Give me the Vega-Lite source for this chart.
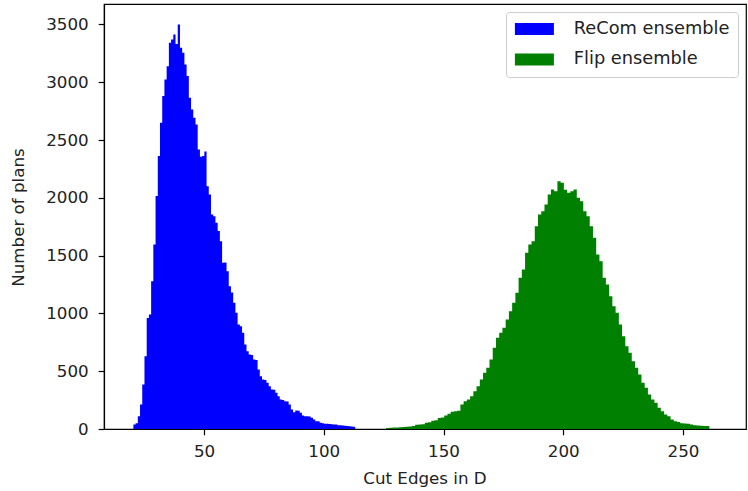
{
  "$schema": "https://vega.github.io/schema/vega-lite/v6.json",
  "width": 642,
  "height": 425,
  "autosize": {"type": "none"},
  "padding": {"left": 104, "top": 4, "right": 2, "bottom": 62},
  "background": "white",
  "config": {
    "font": "DejaVu Sans",
    "view": {"stroke": "black", "strokeWidth": 1.2},
    "axis": {
      "grid": false,
      "domainColor": "black",
      "domainWidth": 1.2,
      "tickColor": "black",
      "tickWidth": 1.2,
      "tickSize": 5.8,
      "labelFont": "DejaVu Sans",
      "labelFontSize": 16.7,
      "labelColor": "#222222",
      "titleFont": "DejaVu Sans",
      "titleFontSize": 16.7,
      "titleFontWeight": "normal",
      "titleColor": "#222222"
    }
  },
  "datasets": {
    "recom": [
      {"x":20.5,"n":39},{"x":21.43,"n":50},{"x":22.35,"n":111},{"x":23.28,"n":212},{"x":24.2,"n":385},{"x":25.13,"n":630},{"x":26.06,"n":960},{"x":26.98,"n":990},{"x":27.91,"n":1279},{"x":28.83,"n":1596},
      {"x":29.76,"n":2015},{"x":30.69,"n":2361},{"x":31.61,"n":2649},{"x":32.54,"n":2880},{"x":33.46,"n":3024},{"x":34.39,"n":3139},{"x":35.32,"n":3342},{"x":36.24,"n":3370},{"x":37.17,"n":3414},{"x":38.09,"n":3330},
      {"x":39.02,"n":3500},{"x":39.95,"n":3298},{"x":40.87,"n":3255},{"x":41.8,"n":3154},{"x":42.72,"n":3053},{"x":43.65,"n":2866},{"x":44.58,"n":2765},{"x":45.5,"n":2693},{"x":46.43,"n":2635},{"x":47.35,"n":2418},
      {"x":48.28,"n":2355},{"x":49.21,"n":2361},{"x":50.13,"n":2400},{"x":51.06,"n":2101},{"x":51.98,"n":2029},{"x":52.91,"n":1856},{"x":53.84,"n":1840},{"x":54.76,"n":1784},{"x":55.69,"n":1712},{"x":56.61,"n":1625},
      {"x":57.54,"n":1438},{"x":58.47,"n":1440},{"x":59.39,"n":1365},{"x":60.32,"n":1236},{"x":61.24,"n":1180},{"x":62.17,"n":1092},{"x":63.1,"n":1005},{"x":64.02,"n":904},{"x":64.95,"n":890},{"x":65.87,"n":832},
      {"x":66.8,"n":731},{"x":67.73,"n":673},{"x":68.65,"n":645},{"x":69.58,"n":640},{"x":70.5,"n":601},{"x":71.43,"n":598},{"x":72.36,"n":515},{"x":73.28,"n":457},{"x":74.21,"n":428},{"x":75.13,"n":425},
      {"x":76.06,"n":400},{"x":76.99,"n":370},{"x":77.91,"n":342},{"x":78.84,"n":340},{"x":79.76,"n":313},{"x":80.69,"n":284},{"x":81.62,"n":255},{"x":82.54,"n":250},{"x":83.47,"n":241},{"x":84.39,"n":238},
      {"x":85.32,"n":212},{"x":86.25,"n":169},{"x":87.17,"n":145},{"x":88.1,"n":160},{"x":89.02,"n":158},{"x":89.95,"n":140},{"x":90.88,"n":117},{"x":91.8,"n":111},{"x":92.73,"n":110},{"x":93.65,"n":108},
      {"x":94.58,"n":97},{"x":95.51,"n":82},{"x":96.43,"n":68},{"x":97.36,"n":66},{"x":98.28,"n":53},{"x":99.21,"n":50},{"x":100.14,"n":45},{"x":101.06,"n":45},{"x":101.99,"n":44},{"x":102.91,"n":42},
      {"x":103.84,"n":40},{"x":104.77,"n":38},{"x":105.69,"n":33},{"x":106.62,"n":32},{"x":107.54,"n":30},{"x":108.47,"n":28},{"x":109.4,"n":26},{"x":110.32,"n":24},{"x":111.25,"n":22},{"x":112.17,"n":20},
      {"x":113.1,"n":20}
    ],
    "flip": [
      {"x":126.0,"n":8},{"x":127.35,"n":10},{"x":128.7,"n":12},{"x":130.05,"n":14},{"x":131.4,"n":16},{"x":132.75,"n":18},{"x":134.1,"n":20},{"x":135.45,"n":22},{"x":136.8,"n":25},{"x":138.15,"n":36},
      {"x":139.5,"n":39},{"x":140.85,"n":42},{"x":142.2,"n":55},{"x":143.55,"n":59},{"x":144.9,"n":72},{"x":146.25,"n":76},{"x":147.6,"n":95},{"x":148.95,"n":99},{"x":150.3,"n":117},{"x":151.65,"n":131},
      {"x":153.0,"n":150},{"x":154.35,"n":154},{"x":155.7,"n":158},{"x":157.05,"n":212},{"x":158.4,"n":241},{"x":159.75,"n":255},{"x":161.1,"n":284},{"x":162.45,"n":327},{"x":163.8,"n":370},{"x":165.15,"n":428},
      {"x":166.5,"n":486},{"x":167.85,"n":530},{"x":169.2,"n":601},{"x":170.55,"n":703},{"x":171.9,"n":789},{"x":173.25,"n":832},{"x":174.6,"n":876},{"x":175.95,"n":947},{"x":177.3,"n":1019},{"x":178.65,"n":1092},
      {"x":180.0,"n":1178},{"x":181.35,"n":1308},{"x":182.7,"n":1380},{"x":184.05,"n":1525},{"x":185.4,"n":1596},{"x":186.75,"n":1625},{"x":188.1,"n":1755},{"x":189.45,"n":1856},{"x":190.8,"n":1885},{"x":192.15,"n":1943},
      {"x":193.5,"n":2029},{"x":194.85,"n":2072},{"x":196.2,"n":2058},{"x":197.55,"n":2144},{"x":198.9,"n":2130},{"x":200.25,"n":2070},{"x":201.6,"n":2044},{"x":202.95,"n":2058},{"x":204.3,"n":2072},{"x":205.65,"n":2000},
      {"x":207.0,"n":1971},{"x":208.35,"n":1885},{"x":209.7,"n":1841},{"x":211.05,"n":1755},{"x":212.4,"n":1654},{"x":213.75,"n":1510},{"x":215.1,"n":1452},{"x":216.45,"n":1308},{"x":217.8,"n":1250},{"x":219.15,"n":1149},
      {"x":220.5,"n":1063},{"x":221.85,"n":1005},{"x":223.2,"n":904},{"x":224.55,"n":803},{"x":225.9,"n":716},{"x":227.25,"n":659},{"x":228.6,"n":587},{"x":229.95,"n":530},{"x":231.3,"n":472},{"x":232.65,"n":400},
      {"x":234.0,"n":356},{"x":235.35,"n":298},{"x":236.7,"n":255},{"x":238.05,"n":227},{"x":239.4,"n":183},{"x":240.75,"n":154},{"x":242.1,"n":125},{"x":243.45,"n":111},{"x":244.8,"n":82},{"x":246.15,"n":68},
      {"x":247.5,"n":60},{"x":248.85,"n":50},{"x":250.2,"n":48},{"x":251.55,"n":45},{"x":252.9,"n":40},{"x":254.25,"n":32},{"x":255.6,"n":30},{"x":256.95,"n":28},{"x":258.3,"n":26},{"x":259.65,"n":25},
      {"x":261.0,"n":25}
    ]
  },
  "layer": [
    {
      "data": {"name": "recom"},
      "mark": {"type": "area", "interpolate": "step-after", "opacity": 1},
      "encoding": {
        "x": {
          "field": "x", "type": "quantitative",
          "scale": {"domain": [8.23, 276.3], "nice": false, "zero": false},
          "axis": {"values": [50, 100, 150, 200, 250], "title": "Cut Edges in D", "labelFlush": false, "labelPadding": 9,
                   "titleX": 320.5, "titleY": 49, "titleBaseline": "middle", "titleAlign": "center"}
        },
        "y": {
          "field": "n", "type": "quantitative",
          "scale": {"domain": [0, 3677], "nice": false},
          "axis": {"values": [0, 500, 1000, 1500, 2000, 2500, 3000, 3500], "format": "d", "title": "Number of plans", "labelFlush": false, "labelPadding": 10,
                   "titleX": -86, "titleY": 213, "titleAngle": 270, "titleBaseline": "middle", "titleAlign": "center"}
        },
        "color": {
          "datum": "ReCom ensemble",
          "scale": {"domain": ["ReCom ensemble", "Flip ensemble"], "range": ["#0000ff", "#008000"]},
          "legend": {
            "orient": "top-right", "offset": 8, "title": null, "padding": 8,
            "strokeColor": "#cccccc", "cornerRadius": 3, "fillColor": "white",
            "symbolType": "M-3.25,-1H3.25V1H-3.25Z", "symbolSize": 144, "symbolOffset": 11.5,
            "symbolStrokeWidth": 0, "symbolOpacity": 1,
            "labelFontSize": 17.8, "labelFont": "DejaVu Sans", "labelColor": "#222222", "labelOffset": 30.5,
            "labelLimit": 400, "rowPadding": 11.5
          }
        }
      }
    },
    {
      "data": {"name": "flip"},
      "mark": {"type": "area", "interpolate": "step-after", "opacity": 1},
      "encoding": {
        "x": {"field": "x", "type": "quantitative"},
        "y": {"field": "n", "type": "quantitative"},
        "color": {"datum": "Flip ensemble"}
      }
    }
  ]
}
